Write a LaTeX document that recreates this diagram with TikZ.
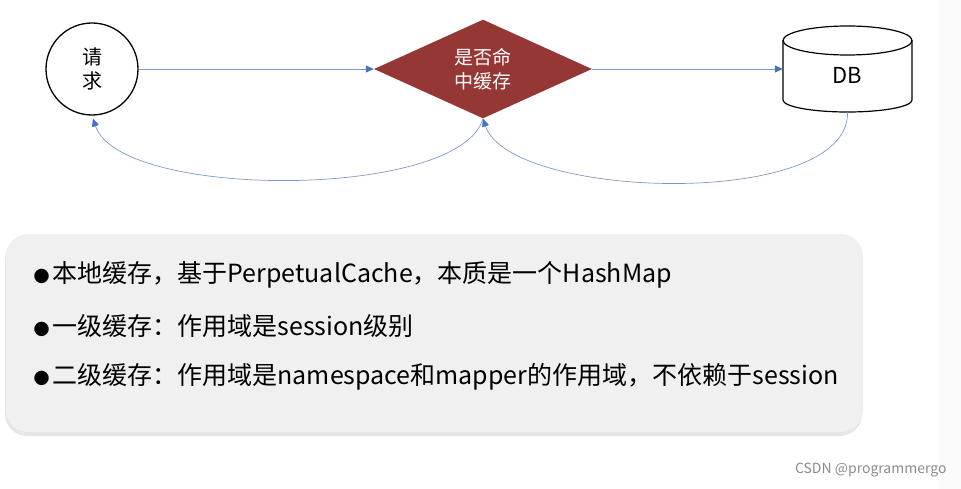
\documentclass[tikz,border=0pt]{standalone}
\usepackage{fontspec}
\setmainfont{Noto Sans CJK SC}
\usetikzlibrary{arrows.meta, positioning, shapes.geometric, shadows}
\definecolor{hitred}{RGB}{149,55,53}
\definecolor{flowline}{RGB}{128,152,200}
\definecolor{tipblue}{RGB}{68,114,196}
\definecolor{notefill}{RGB}{240,240,240}

\begin{document}
\begin{tikzpicture}[x=1pt, y=-1pt,
    flow/.style={draw=flowline, line width=0.7pt,
      -{Triangle[length=8pt, width=7pt, color=tipblue]}},
    notetext/.style={anchor=west, font=\fontsize{25}{29}\selectfont}]
  \useasboundingbox (0,0) rectangle (961,489);
  \fill[black!2] (939,0) rectangle (961,489);
  % Flow: request, cache check, database
  \node[circle, draw, line width=1.3pt, minimum size=92pt, inner sep=0pt,
    align=center, font=\fontsize{20}{24}\selectfont] (req) at (92,69) {请\\求};
  \node[diamond, fill=hitred, minimum width=218pt, minimum height=91pt,
    inner sep=0pt, text=white, align=center,
    font=\fontsize{19}{24}\selectfont] (hit) at (483,69) {是否命\\中缓存};
  \node[minimum width=129pt, minimum height=86pt] (db) at (847.5,69) {};
  \node[font=\fontsize{22}{26}\selectfont] (dblabel)
    at ([yshift=-6pt]db.center) {DB};
  % Cylinder outline of the database
  \draw[line width=1.2pt] (847.5,40.5) ellipse [x radius=64.5, y radius=14.5];
  \draw[line width=1.2pt] (783,40.5) -- (783,100)
    arc[start angle=180, end angle=0, x radius=64.5, y radius=12] -- (912,40.5);
  \draw[flow] (req) -- (hit);
  \draw[flow] (hit) -- (db);
  \draw[flow] (db.south) .. controls (850,210) and (510,200) .. (hit.south);
  \draw[flow, shorten >=3pt] (hit.south) .. controls (460,200) and (120,200) .. (req.south);
  % Notes
  \node[rounded corners=22pt, fill=notefill, minimum width=857pt,
    minimum height=198pt,
    drop shadow={shadow xshift=-1pt, shadow yshift=-4pt, opacity=0.2}]
    (notes) at (434.5,333) {};
  \foreach \i/\txt in {
    0/{本地缓存，基于PerpetualCache，本质是一个HashMap},
    1/{一级缓存：作用域是session级别},
    2/{二级缓存：作用域是namespace和mapper的作用域，不依赖于session}} {
    \node[notetext] (note\i) at (30,{275+51*\i})
      {{\fontsize{16}{16}\selectfont●}\hspace{3pt}\txt};
  }
  \node[anchor=east, text=black!45, font=\fontsize{14}{16}\selectfont]
    (mark) at (950,470) {CSDN @programmergo};
\end{tikzpicture}
\end{document}
